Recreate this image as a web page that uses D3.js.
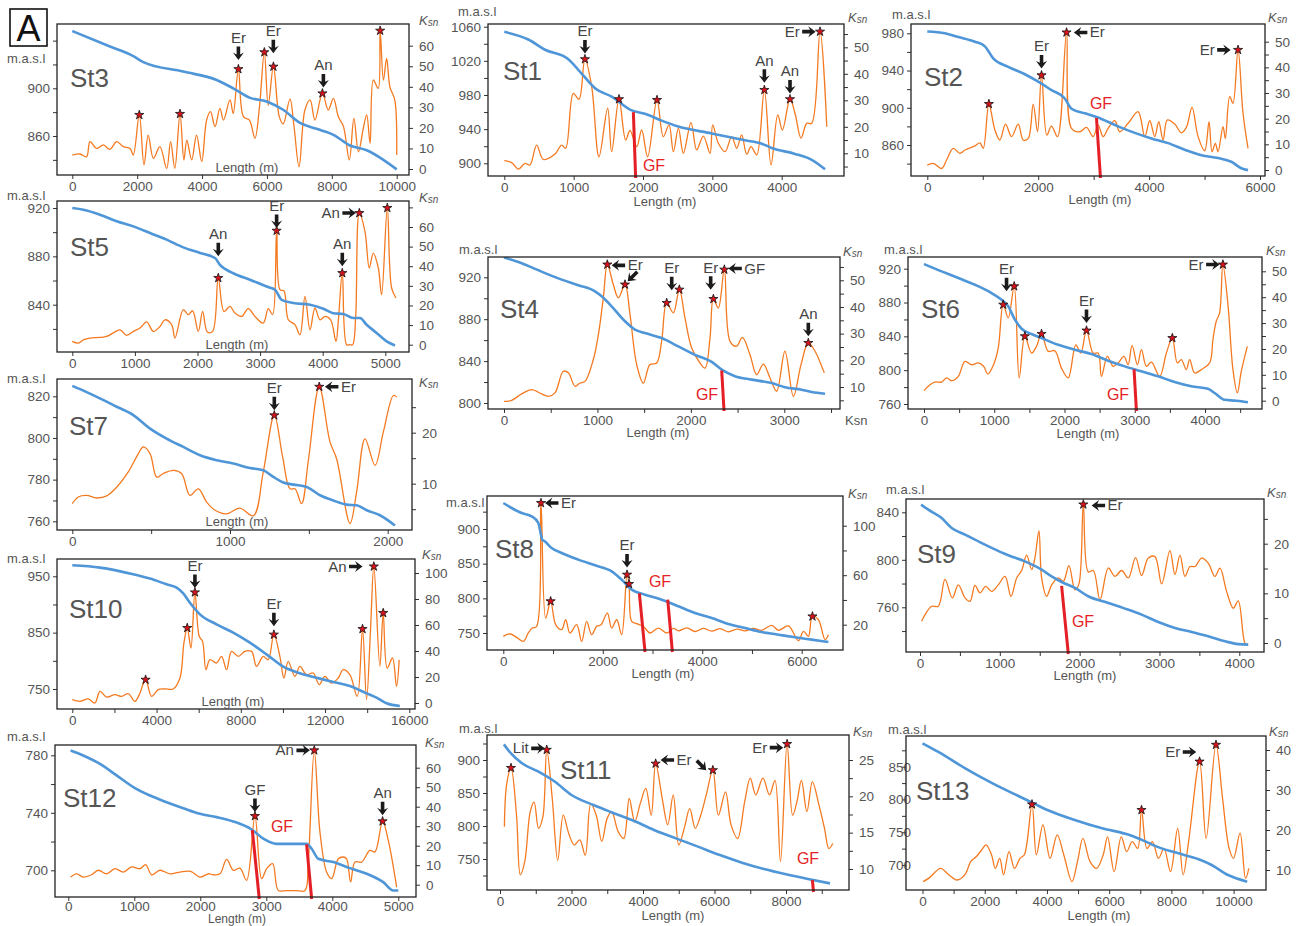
<!DOCTYPE html>
<html lang="en">
<head>
<meta charset="utf-8">
<title>Ksn profiles A</title>
<script src="https://cdn.jsdelivr.net/npm/d3@7"></script>
<style>
  body { margin: 0; background: #fff; }
  svg text { font-family: "Liberation Sans", Arial, sans-serif; }
  .axis line { stroke: #333; }
  .axis text { fill: #555; font-size: 13.5px; font-family: "Liberation Sans", Arial, sans-serif; }
</style>
</head>
<body>
<script>
// ---------- data: [distance (m), elevation (m.a.s.l)] and [distance, Ksn] ----------
const st3Elev = [[0,948],[1160,935],[1880,927],[2190,922],[3420,914],[4450,907],[4960,900],[5480,892],[5990,889],[6500,882],[7020,871],[7530,866],[8050,861],[8560,852],[9075,848],[9590,840],[10000,832]];
const st3Ksn = [[0,6.8],[236,7.3],[440,6],[545,13.3],[750,10],[955,11.7],[1160,9.6],[1370,13.3],[1570,10.9],[1780,10],[1880,6.8],[2065,26.3],[2210,2],[2340,16.5],[2500,5.2],[2700,10.9],[2910,0.3],[3030,13.3],[3160,0.3],[3320,26.8],[3440,4.4],[3530,14],[3680,4.4],[3830,16.5],[3990,3.6],[4140,23.8],[4260,27.9],[4400,20.6],[4550,29.5],[4660,23.8],[4860,33.6],[4960,27],[5120,48.6],[5275,25.5],[5460,23.8],[5630,15],[5770,30.3],[5920,56.8],[6040,31],[6200,49.8],[6380,25.5],[6500,22],[6710,34],[6830,21.4],[6990,1.1],[7170,28.7],[7330,33.6],[7480,23.8],[7710,36.8],[7890,28.7],[8050,34.4],[8200,25.5],[8360,20.6],[8540,4.4],[8680,24.6],[8820,8.4],[8970,19.8],[9075,26.3],[9180,12.5],[9280,43.3],[9430,39.2],[9490,67.3],[9590,43.3],[9690,53.8],[9790,40],[9940,33.6],[10000,6.8]];
const st3Stars = [[2065,26.3],[3320,26.8],[5120,48.6],[5920,56.8],[6200,49.8],[7710,36.8],[9490,67.3]];
const st3Notes = [["Er","down",5120,53],["Er","down",6197,56.3],["An","down",7740,39.7]];

const st5Elev = [[0,920],[176,918.6],[442,914.5],[708,909],[975,904.8],[1241,899.3],[1507,893.8],[1773,887.4],[2040,882.8],[2279,878.6],[2359,873],[2572,866],[2838,860.7],[3104,855],[3238,852.4],[3344,844],[3530,841.4],[3797,840],[4010,836.7],[4169,833],[4329,832.3],[4489,829],[4595,829],[4702,823.4],[4862,816.6],[5021,809.7],[5155,806.3]];
const st5Ksn = [[0,1.7],[96,0.8],[176,2.5],[282,3.4],[442,3.7],[548,4.2],[655,6],[761,7.6],[868,4.8],[975,6.8],[1081,8.5],[1188,11.6],[1294,6.8],[1400,9.3],[1480,12.7],[1587,10.2],[1640,3.4],[1773,17.8],[1853,15.3],[1922,17.3],[2013,6.8],[2082,17],[2157,6.5],[2242,6.8],[2332,34],[2423,17],[2519,19.5],[2599,16.1],[2705,14.4],[2811,18.4],[2918,14.4],[3051,11],[3131,18.4],[3200,15.3],[3264,58.1],[3318,28],[3381,27.5],[3451,12.7],[3557,10.2],[3637,5.1],[3717,24.6],[3797,7.6],[3877,18.7],[3957,12.7],[4036,14.4],[4127,12.7],[4212,1.7],[4249,11.9],[4313,36.5],[4382,0],[4430,0],[4478,0],[4526,13.6],[4585,67.1],[4675,57.8],[4744,39.1],[4808,46.7],[4888,39.1],[4941,25.5],[5032,69.7],[5101,28.9],[5171,23.8]];
const st5Stars = [[2332,34],[3264,58.1],[4313,36.5],[4585,67.1],[5032,69.7]];
const st5Notes = [["An","down",2332,45.1],["Er","down",3264,59.5],["An","down",4313,40],["An","right",4530,67.1]];

const st7Elev = [[0,825],[91,822],[175,819],[281,815],[387,811],[493,804.5],[598,799.7],[704,795.7],[810,791.7],[915,789.3],[1021,787.7],[1127,785.6],[1211,784.5],[1275,781.3],[1338,778.6],[1402,777.6],[1486,776.5],[1571,772.5],[1655,770],[1740,768],[1803,767.7],[1867,765.3],[1951,762.9],[2046,758]];
const st7Ksn = [[0,6.1],[38,7.4],[91,7.7],[154,7.2],[218,7.6],[281,9.3],[355,12.3],[419,15.9],[450,17.2],[493,15.9],[535,11.3],[577,12],[641,12.6],[693,12],[746,7.7],[799,9],[852,6.4],[905,4.8],[979,4.1],[1063,5.2],[1148,3.7],[1211,12.3],[1281,23.4],[1334,15.2],[1380,9],[1412,9],[1454,6.1],[1497,14.6],[1566,29],[1634,18.2],[1676,14.9],[1761,2.2],[1803,8.4],[1856,18.8],[1920,13.6],[1972,20.1],[2036,27.3],[2057,27]];
const st7Stars = [[1281,23.4],[1566,29]];
const st7Notes = [["Er","down",1281,24.4],["Er","left",1602,29]];

const st10Elev = [[0,969.5],[1313,965.4],[2895,953.6],[3686,945.9],[4477,935.8],[4952,929.9],[5268,919.8],[5585,903],[6059,882.5],[6850,864.8],[7641,850],[8432,832.2],[9223,811.5],[10014,789.6],[10805,777.8],[11596,770],[12387,762.4],[13178,755.3],[13970,742.3],[14444,734.6],[14919,724.6],[15551,719.8]];
const st10Ksn = [[0,2.6],[364,1.3],[759,3.1],[1076,0],[1313,9],[1629,4.6],[2025,6.4],[2341,5.1],[2658,7.2],[2974,1.3],[3180,6.4],[3480,17.9],[3765,5.1],[4082,10.3],[4398,10.8],[4793,10.8],[5110,19.2],[5300,46.2],[5458,57.7],[5632,42.3],[5822,85.1],[6027,51.3],[6185,47.4],[6344,25.6],[6534,33.3],[6850,30.8],[7087,35.9],[7325,25.6],[7562,39.7],[7878,35.9],[8194,39.7],[8511,39.7],[8748,28.2],[9065,35.9],[9302,33.3],[9571,52.6],[9855,35.9],[10046,19.2],[10251,32],[10568,20.5],[10805,28.2],[11121,21.8],[11438,23.1],[11723,14.1],[11992,20.5],[12308,15.4],[12624,19.2],[12862,25.6],[13178,21.8],[13526,5.1],[13779,56.9],[13970,2.6],[14159,56.4],[14317,105],[14602,28.2],[14760,69.2],[14950,26.9],[15203,34.6],[15393,12.8],[15520,33.3]];
const st10Stars = [[3480,17.9],[5458,57.7],[5822,85.1],[9571,52.6],[13779,56.9],[14317,105],[14760,69.2]];
const st10Notes = [["Er","down",5822,88.5],["Er","down",9571,59],["An","right",13780,105]];

const st12Elev = [[35,783.4],[227,779.9],[480,774],[732,766],[985,757.9],[1237,752],[1490,747.4],[1742,743.2],[1995,739.3],[2247,737],[2500,734],[2778,728.4],[2955,722],[3156,718.4],[3358,718.4],[3611,718.4],[3687,715],[3788,708],[4015,705.7],[4267,701.5],[4520,697.6],[4772,691.8],[4924,686],[5000,686]];
const st12Ksn = [[35,3.9],[126,5.6],[227,3.9],[354,5.1],[455,7.4],[581,5.6],[707,8.2],[833,6.5],[960,9.1],[1086,8.2],[1172,10.3],[1262,5.1],[1389,7.4],[1540,5.6],[1692,6.5],[1853,6.8],[1995,3.9],[2121,5.6],[2197,5.1],[2298,5.6],[2399,13],[2500,7.4],[2601,8.5],[2702,2.2],[2828,35.2],[2929,3.1],[3005,8.2],[3096,10.8],[3182,-3],[3300,-3],[3450,-3],[3586,-3],[3636,11.6],[3727,68.9],[3813,27],[3914,6.5],[3990,3.1],[4091,13.3],[4166,14.2],[4217,13.3],[4277,1.4],[4343,11.6],[4444,11.6],[4570,17.6],[4646,16.8],[4762,32.5],[4848,22.7],[4975,-1.2]];
const st12Stars = [[2828,35.2],[3727,68.9],[4762,32.5]];
const st12Notes = [["GF","down",2828,37.3],["An","right",3661,68.9],["An","down",4762,35.6]];
const st12GF = [[2788,2894,728],[3611,3687,718]];

const st1Elev = [[0,1054],[346,1045],[587,1033],[923,1022],[1115,1005],[1308,988],[1548,978],[1837,962],[2029,958],[2269,950],[2510,943],[2990,935],[3471,927],[3712,923],[3856,918],[4192,911],[4433,904],[4625,893]];
const st1Ksn = [[0,7.2],[106,6.5],[202,4],[298,6.2],[370,5.6],[466,13.1],[563,7.7],[731,9.7],[827,13.1],[885,11.9],[995,32.6],[1077,30.4],[1163,45.5],[1260,35.2],[1365,8.7],[1490,27],[1548,10.6],[1654,30.4],[1750,15],[1813,18.6],[1909,12.5],[1981,18.8],[2067,8.7],[2202,30.1],[2293,16.3],[2375,20.7],[2438,10.6],[2510,19.4],[2582,10],[2692,21.6],[2774,11.3],[2870,16.5],[2967,10],[3005,20.7],[3087,13.8],[3183,10.6],[3279,16.3],[3351,11.9],[3423,16.9],[3495,9.7],[3558,12.5],[3640,9.4],[3750,33.9],[3846,5.6],[3943,24.5],[4010,18.8],[4120,30.4],[4192,25.1],[4279,15.7],[4361,21.3],[4433,21.3],[4553,55.9],[4650,20]];
const st1Stars = [[1163,45.5],[1654,30.4],[2202,30.1],[3750,33.9],[4120,30.4],[4553,55.9]];
const st1Notes = [["Er","down",1163,47.7],["An","down",3750,36.6],["An","down",4120,32.6],["Er","right",4490,55.9]];
const st1GF = [[1861,1894,960]];

const st2Elev = [[0,982],[318,980],[559,976],[859,971],[1039,966],[1189,953],[1459,944],[1760,936],[2000,928],[2240,919],[2480,910],[2600,899],[2841,894],[3141,888],[3441,880],[3742,873],[4042,867],[4342,862],[4643,855],[4943,849],[5243,846],[5483,842],[5663,835],[5784,833]];
const st2Ksn = [[0,1.9],[108,2.6],[258,0.6],[348,3.9],[468,8.4],[589,6.5],[679,7.8],[859,9.4],[949,10.6],[1009,8.4],[1111,25.7],[1219,15.6],[1309,11.7],[1411,17.9],[1519,13],[1640,17.9],[1730,11.7],[1820,12.3],[1910,25.7],[1988,14.9],[2060,36.9],[2156,13.6],[2240,17.1],[2348,13],[2511,53.6],[2600,16.2],[2751,14.9],[2871,16.6],[2991,13],[3081,17.5],[3171,13],[3261,16.2],[3381,19.2],[3471,14.9],[3622,18.2],[3802,22.7],[3922,13],[4012,19.2],[4102,13],[4174,18.8],[4252,11.7],[4330,19.5],[4462,17.9],[4582,14.5],[4672,16.6],[4775,24.4],[4883,13],[5003,7.5],[5081,18.8],[5135,7.1],[5195,10.4],[5243,7.1],[5333,16.9],[5375,12.3],[5453,28.6],[5513,26],[5604,46.8],[5694,22.1],[5784,8.4]];
const st2Stars = [[1111,25.7],[2060,36.9],[2511,53.6],[5604,46.8]];
const st2Notes = [["Er","down",2060,39.6],["Er","left",2643,53.6],["Er","right",5471,46.8]];
const st2GF = [[3051,3123,889]];

const st4Elev = [[0,939],[153,934.6],[296,929.5],[439,924],[617,917.8],[796,912.4],[974,906.6],[1045,901.9],[1152,892.3],[1295,878],[1402,870],[1509,866.8],[1687,862],[1866,854],[2044,846],[2223,839.2],[2330,831.8],[2472,825.5],[2651,822.3],[2865,819],[3007,815],[3186,812.7],[3293,810.5],[3436,808.9]];
const st4Ksn = [[0,4.6],[82,5],[189,7.4],[296,9],[403,7.4],[475,6.5],[546,7.8],[635,15.9],[689,15.3],[760,10.3],[814,11.5],[867,12.1],[956,20.3],[1010,29.6],[1063,43.4],[1106,55.9],[1170,48.4],[1224,43.4],[1295,48.4],[1349,37.1],[1420,18.4],[1491,11.5],[1562,18.4],[1634,19],[1687,27.1],[1741,41.5],[1812,37.8],[1877,46.5],[1937,35.9],[2009,24.6],[2098,19],[2152,17.1],[2205,28.4],[2241,43],[2294,39.6],[2358,54],[2419,27.1],[2490,25.3],[2551,28.6],[2633,22.1],[2704,14.6],[2776,18.6],[2847,13.4],[2918,8.4],[3007,23.4],[3097,6.5],[3179,18.4],[3257,26.5],[3329,23.4],[3400,17.8],[3428,15.3]];
const st4Stars = [[1106,55.9],[1295,48.4],[1741,41.5],[1877,46.5],[2241,43],[2358,54],[3257,26.5]];
const st4Notes = [["Er","left",1152,55.6],["","dl",1324,49.6],["Er","down",1795,46.25],["Er","down",2212,46.5],["GF","left",2401,54.4],["An","down",3257,29]];
const st4GF = [[2330,2355,831]];

const st6Elev = [[0,925.5],[251,916.8],[488,909],[725,901],[962,891.2],[1104,883.3],[1199,875.5],[1294,859.7],[1389,849],[1531,842.8],[1673,838],[1910,830],[2147,824.2],[2384,819],[2621,811.2],[2858,804.5],[3095,798.6],[3332,792.7],[3568,786],[3805,780.9],[4042,778.1],[4137,773],[4279,765],[4421,764],[4516,763.2],[4611,762]];
const st6Ksn = [[0,3.9],[85,6.2],[156,7.2],[251,7.2],[322,8.8],[393,7.7],[488,9.4],[583,15.2],[678,13.9],[773,14.6],[848,13.3],[910,10.3],[990,13.9],[1057,20.4],[1128,37.1],[1199,32],[1284,44.2],[1355,8.8],[1436,24.9],[1531,18.4],[1602,21],[1673,25.8],[1768,19.1],[1862,19.3],[1957,12.6],[2052,8.8],[2161,21.6],[2232,18.4],[2313,27.1],[2408,18.4],[2479,18.4],[2526,9.4],[2611,17.1],[2692,13.3],[2763,14.6],[2848,17.1],[2905,13.9],[2962,21.4],[3038,13.9],[3095,19.7],[3166,13.3],[3237,14.9],[3355,9.4],[3450,18.4],[3535,24.2],[3606,14.6],[3663,15.9],[3734,12],[3782,15.9],[3853,10.7],[3947,12],[4066,14.6],[4113,23.6],[4160,30.7],[4208,33.9],[4255,52.6],[4327,37.1],[4398,12],[4460,3],[4516,11.3],[4602,21]];
const st6Stars = [[1128,37.1],[1284,44.2],[1436,24.9],[1673,25.8],[2313,27.1],[3535,24.2],[4255,52.6]];
const st6Notes = [["Er","down",1175,42.3],["Er","down",2313,30],["Er","right",4208,52.6]];
const st6GF = [[2990,3024,801]];

const st8Elev = [[0,937.5],[168,930.3],[369,923],[570,918.3],[704,908.7],[785,884.6],[838,882],[972,872.6],[1173,865.4],[1509,855.8],[1844,847.6],[2179,839],[2380,827],[2581,812.5],[2850,805.3],[3185,798],[3520,788.5],[3855,778.8],[4191,771.6],[4526,763],[4861,757.2],[5196,751.4],[5532,747.6],[5867,743.8],[6202,740.4],[6537,737]];
const st8Ksn = [[0,10.6],[134,12.5],[268,9.8],[402,6.5],[503,13.3],[583,17.3],[671,18.7],[758,118.3],[852,25.4],[952,38.9],[1053,20],[1173,16],[1254,24],[1341,13.3],[1475,20],[1576,6.5],[1676,22.7],[1777,11.9],[1878,18.7],[1965,20],[2092,29.4],[2179,17.3],[2280,24],[2380,11.9],[2488,60.4],[2528,52.9],[2581,22.7],[2682,20.8],[2816,18.7],[2950,13.3],[3118,17.3],[3285,13.3],[3420,17],[3520,15],[3690,17.5],[3855,14.5],[4020,17],[4191,14.8],[4360,16.8],[4526,14.2],[4700,16.5],[4861,15],[5030,17],[5196,15.5],[5397,19.5],[5532,15.5],[5733,19],[5934,7.1],[6035,14.6],[6135,10.6],[6216,26.7],[6336,24],[6470,7.9],[6537,11.9]];
const st8Stars = [[758,118.3],[952,38.9],[2488,60.4],[2528,52.9],[6216,26.7]];
const st8Notes = [["Er","left",838,118.3],["Er","down",2488,66.3]];
const st8GF = [[2736,2850,807],[3306,3400,798]];

const st9Elev = [[13,846.5],[104,842.2],[271,835.2],[397,826.8],[564,821.2],[689,817],[898,810],[1106,803.8],[1315,798.7],[1524,791.7],[1649,786],[1774,781.3],[1941,776.3],[2108,769.3],[2359,763.6],[2568,758.9],[2776,753.8],[2985,747.6],[3194,742.6],[3403,739.2],[3611,735.6],[3820,731.4],[3987,729],[4112,728.6]];
const st9Ksn = [[21,4.4],[63,5.7],[146,7.4],[230,7.4],[313,12.8],[405,9.1],[480,11.7],[564,9.1],[626,8.4],[689,11.6],[752,10.1],[823,11.4],[898,10.4],[981,11.7],[1065,13.4],[1140,9.4],[1211,13.1],[1273,14.6],[1336,17.7],[1399,14.8],[1440,17.2],[1490,22.6],[1524,13.1],[1586,9.4],[1649,11.7],[1733,13.1],[1795,12.4],[1866,15.6],[1941,10.7],[1991,11.9],[2046,27.9],[2108,14.3],[2171,14.6],[2255,8.7],[2359,15.1],[2442,13.4],[2526,14.6],[2609,13.1],[2701,17.2],[2776,13.6],[2860,17.1],[2943,17.4],[3027,11.9],[3131,18.6],[3194,13.8],[3257,17.7],[3319,13.4],[3382,15.4],[3445,15.4],[3528,17.1],[3611,16.1],[3695,13.4],[3758,15.1],[3841,10.4],[3925,7],[3987,8.5],[4071,0],[4104,-0.3]];
const st9Stars = [[2046,27.9]];
const st9Notes = [["Er","left",2150,27.7]];
const st9GF = [[1774,1858,778]];

const st11Elev = [[108,923.7],[308,910],[615,895],[1077,882.3],[1538,867],[2000,847],[2615,831.8],[3077,821.7],[3692,809],[4308,794],[4923,781.3],[5538,768.7],[6154,756],[6769,744.4],[7385,734.8],[8000,726.8],[8615,719.7],[9231,713.1]];
const st11Ksn = [[123,15.8],[185,21.6],[308,23.9],[462,17.4],[569,9.2],[692,11],[846,17.9],[954,19.2],[1077,15.6],[1200,17.2],[1308,26.4],[1462,19.7],[1615,11.2],[1769,17.4],[1923,14.9],[2077,13.3],[2231,14],[2385,11.9],[2538,19],[2692,17.4],[2846,13.8],[3000,17],[3123,17.9],[3308,15.1],[3462,14.2],[3615,19.7],[3769,16.5],[3923,19],[4077,21.1],[4231,17.4],[4354,24.5],[4538,19.7],[4692,16.1],[4846,20.2],[5000,13.3],[5154,15.6],[5308,18.3],[5462,15.6],[5615,17.4],[5769,20.2],[5954,23.6],[6108,17.4],[6308,20.6],[6462,16.1],[6646,14.2],[6846,19.3],[7000,22.5],[7154,20.2],[7354,22.5],[7538,20.2],[7692,22.2],[7846,11],[8031,27.2],[8185,17.4],[8308,19.3],[8431,22.2],[8585,17.9],[8738,22],[8923,18.8],[9077,15.6],[9200,12.8],[9308,13.5]];
const st11Stars = [[308,23.9],[1308,26.4],[4354,24.5],[5954,23.6],[8031,27.2]];
const st11Notes = [["Lit","right",1250,26.6],["Er","left",4492,25],["","dr",5769,23.6],["Er","right",7923,26.7]];
const st11GF = [[8738,8770,718]];

const st13Elev = [[0,885.6],[493,872.9],[1373,847.5],[2253,824.6],[3133,804.2],[3573,794],[4013,783.9],[4893,768.7],[5773,756],[6653,745.8],[7181,735.6],[7533,728],[8413,715.3],[8941,707.6],[9293,700],[9821,684.8],[10437,674.6]];
const st13Ksn = [[18,7.1],[229,8.1],[581,10.4],[845,8.8],[1109,7.5],[1373,8.9],[1549,12.1],[1725,13.3],[1901,15],[2042,16.3],[2218,13.8],[2341,10.4],[2482,12.9],[2605,8.8],[2781,14.6],[2957,10.4],[3133,12.9],[3274,13.8],[3520,26.4],[3661,13.8],[3872,21.3],[4101,12.9],[4330,18.8],[4541,13.8],[4805,7.1],[4981,12.1],[5157,17.9],[5386,12.1],[5597,10.4],[5808,13.8],[5949,18.3],[6160,9.6],[6389,18.3],[6565,14.6],[6741,17.1],[6917,15.4],[7040,25],[7216,15.4],[7392,17.1],[7586,12.9],[7762,15.4],[7973,9.6],[8202,20.4],[8378,8.8],[8554,17.1],[8906,37.1],[9117,17.9],[9434,41.3],[9645,27.9],[9856,15.4],[9997,12.9],[10208,19.2],[10384,7.9],[10490,10.4]];
const st13Stars = [[3520,26.4],[7040,25],[8906,37.1],[9434,41.3]];
const st13Notes = [["Er","right",8800,39.5]];

// ---------- layout ----------
const rng = (a, b, s) => d3.range(a, b + s / 2, s);

const panels = [
  {name:"St3", elev:st3Elev, ksn:st3Ksn, stars:st3Stars, notes:st3Notes, gf:[],
   frame:[57,24,409,175], xd:[0,10000], xr:[72.3,396.7], ed:[860,900], er:[136,88.3], kd:[0,60], kr:[169,45.7],
   xt:rng(0,10000,2000), xl:rng(0,10000,2000), et:rng(840,940,20), el:[860,900], kt:rng(0,60,10), kl:rng(0,60,10),
   title:[70,87], masl:[7,63], ksnPos:[419,25], len:[247,172]},
  {name:"St5", elev:st5Elev, ksn:st5Ksn, stars:st5Stars, notes:st5Notes, gf:[],
   frame:[57,201,409,352], xd:[0,5000], xr:[72.3,385.3], ed:[840,920], er:[304.7,208], kd:[0,60], kr:[344.7,227],
   xt:rng(0,5000,1000), xl:rng(0,5000,1000), et:rng(820,920,20), el:[840,880,920], kt:rng(0,70,10), kl:rng(0,60,10),
   title:[70,256], masl:[7,200], ksnPos:[419,202], len:[237,349]},
  {name:"St7", elev:st7Elev, ksn:st7Ksn, stars:st7Stars, notes:st7Notes, gf:[],
   frame:[57,379,412,530], xd:[0,2000], xr:[72.3,387.7], ed:[760,820], er:[521.3,396.3], kd:[10,20], kr:[483.7,432.7],
   xt:rng(0,2000,500), xl:[0,1000,2000], et:rng(760,820,10), el:[760,780,800,820], kt:rng(5,25,5), kl:[10,20],
   title:[69,435], masl:[7,383], ksnPos:[419,387], len:[237,526]},
  {name:"St10", elev:st10Elev, ksn:st10Ksn, stars:st10Stars, notes:st10Notes, gf:[],
   frame:[57,559,415,709], xd:[0,16000], xr:[72.3,409.3], ed:[750,950], er:[689,576.3], kd:[0,100], kr:[703,573],
   xt:rng(0,16000,2000), xl:rng(0,16000,4000), et:rng(750,950,50), el:[750,850,950], kt:rng(0,100,20), kl:rng(0,100,20),
   title:[69,618], masl:[7,563], ksnPos:[422,559], len:[233,706]},
  {name:"St12", elev:st12Elev, ksn:st12Ksn, stars:st12Stars, notes:st12Notes, gf:st12GF,
   frame:[55,745,416,897], xd:[0,5000], xr:[68.3,398.3], ed:[700,780], er:[870.3,755.3], kd:[0,60], kr:[884.7,767.7],
   xt:rng(0,5000,1000), xl:rng(0,5000,1000), et:rng(700,780,20), el:[700,740,780], kt:rng(0,60,10), kl:rng(0,60,10),
   title:[63,807], masl:[7,741], ksnPos:[425,747], len:[237,923], lenSize:12, xPad:0, gfText:[282,832]},
  {name:"St1", elev:st1Elev, ksn:st1Ksn, stars:st1Stars, notes:st1Notes, gf:st1GF,
   frame:[488,24,844,176], xd:[0,4000], xr:[504.3,781.7], ed:[900,1060], er:[163.3,26.7], kd:[10,50], kr:[153.3,47.3],
   xt:rng(0,4000,1000), xl:rng(0,4000,1000), et:rng(900,1060,20), el:rng(900,1060,40), kt:rng(5,55,5), kl:rng(10,50,10),
   title:[503,80], masl:[458,16], ksnPos:[848,22], len:[665,206], gfText:[654,171]},
  {name:"St2", elev:st2Elev, ksn:st2Ksn, stars:st2Stars, notes:st2Notes, gf:st2GF,
   frame:[911,24,1265,176], xd:[0,6000], xr:[927.3,1260], ed:[860,980], er:[145,33.3], kd:[0,50], kr:[170,41.7],
   xt:rng(0,6000,1000), xl:rng(0,6000,2000), et:rng(840,980,20), el:rng(860,980,40), kt:rng(0,50,5), kl:rng(0,50,10),
   title:[924,86], masl:[892,19], ksnPos:[1268,22], len:[1100,204], gfText:[1101,109]},
  {name:"St4", elev:st4Elev, ksn:st4Ksn, stars:st4Stars, notes:st4Notes, gf:st4GF,
   frame:[488,257,840,409], xd:[0,3000], xr:[504,784.3], ed:[800,920], er:[403,277.3], kd:[10,50], kr:[387,280.3],
   xt:rng(0,3500,500), xl:rng(0,3000,1000), et:rng(800,920,20), el:rng(800,920,40), kt:rng(5,55,5), kl:rng(10,50,10),
   title:[500,318], masl:[459,254], ksnPos:[843,256], len:[658,437], gfText:[707,400], extraKsn:[845,425]},
  {name:"St6", elev:st6Elev, ksn:st6Ksn, stars:st6Stars, notes:st6Notes, gf:st6GF,
   frame:[908,257,1262,409], xd:[0,4000], xr:[924,1205], ed:[760,920], er:[404,268.7], kd:[0,50], kr:[400.7,271.3],
   xt:rng(0,4500,500), xl:rng(0,4000,1000), et:rng(760,920,20), el:rng(760,920,40), kt:rng(0,50,5), kl:rng(0,50,10),
   title:[921,318], masl:[884,254], ksnPos:[1266,255], len:[1088,438], gfText:[1118,400]},
  {name:"St8", elev:st8Elev, ksn:st8Ksn, stars:st8Stars, notes:st8Notes, gf:st8GF,
   frame:[487,496,843,650], xd:[0,6000], xr:[503.3,801.7], ed:[750,900], er:[633,529], kd:[20,100], kr:[624.7,525.7],
   xt:rng(0,6000,1000), xl:rng(0,6000,2000), et:rng(750,925,25), el:rng(750,900,50), kt:rng(20,100,20), kl:[20,60,100],
   title:[495,558], masl:[446,507], ksnPos:[848,498], len:[663,678], gfText:[660,587]},
  {name:"St9", elev:st9Elev, ksn:st9Ksn, stars:st9Stars, notes:st9Notes, gf:st9GF,
   frame:[906,499,1264,652], xd:[0,4000], xr:[920,1239.3], ed:[760,840], er:[607.3,512.3], kd:[0,20], kr:[643,543.7],
   xt:rng(0,4000,500), xl:rng(0,4000,1000), et:rng(740,840,20), el:[760,800,840], kt:rng(0,25,5), kl:[0,10,20],
   title:[917,563], masl:[886,494], ksnPos:[1267,497], len:[1085,680], gfText:[1083,627]},
  {name:"St11", elev:st11Elev, ksn:st11Ksn, stars:st11Stars, notes:st11Notes, gf:st11GF,
   frame:[487,735,849,890], xd:[0,8000], xr:[500,786], ed:[750,900], er:[859,760], kd:[10,25], kr:[869,760],
   xt:rng(0,9000,1000), xl:rng(0,8000,2000), et:rng(725,925,25), el:rng(750,900,50), kt:rng(10,25,2.5), kl:[10,15,20,25],
   title:[560,779], masl:[459,733], ksnPos:[853,736], len:[673,920], gfText:[808,864]},
  {name:"St13", elev:st13Elev, ksn:st13Ksn, stars:st13Stars, notes:st13Notes, gf:[],
   frame:[906,736,1266,890], xd:[0,10000], xr:[922.5,1233.6], ed:[700,850], er:[865,766.7], kd:[10,40], kr:[870,750],
   xt:rng(0,10000,1000), xl:rng(0,10000,2000), et:rng(700,875,25), el:rng(700,850,50), kt:rng(10,40,5), kl:rng(10,40,10),
   title:[916,800], masl:[888,734], ksnPos:[1269,736], len:[1099,920], ePad:-9}
];

const COL = { orange:"#f47a22", blue:"#4f96d8", red:"#e41f26", text:"#555", note:"#444", arrow:"#1b1b1b" };
const arrowPath = "M0,0 L-5.5,-7.5 L-1.8,-5.6 L-1.8,-13.5 L1.8,-13.5 L1.8,-5.6 L5.5,-7.5 Z";
const arrowRot = { down:0, left:90, right:-90, dl:45, dr:-45 };

const svg = d3.select("body").append("svg")
  .attr("width", 1301).attr("height", 926);

// panel letter
svg.append("rect").attr("x", 10).attr("y", 9).attr("width", 37).attr("height", 37)
  .attr("fill", "none").attr("stroke", "#111").attr("stroke-width", 1.6);
svg.append("text").attr("x", 28.5).attr("y", 41).attr("text-anchor", "middle")
  .attr("font-size", 36).attr("fill", "#111").text("A");

panels.forEach(drawPanel);

function drawPanel(p, i) {
  const [fx0, fy0, fx1, fy1] = p.frame;
  const x = d3.scaleLinear().domain(p.xd).range(p.xr);
  const yE = d3.scaleLinear().domain(p.ed).range(p.er);
  const yK = d3.scaleLinear().domain(p.kd).range(p.kr);
  const g = svg.append("g");
  const clipId = "clip" + i;

  g.append("clipPath").attr("id", clipId).append("rect")
    .attr("x", fx0).attr("y", fy0).attr("width", fx1 - fx0).attr("height", fy1 - fy0);

  const fmt = labels => d => labels.includes(d) ? String(d) : "";

  // axes
  const ax = [
    g.append("g").attr("transform", `translate(0,${fy1})`)
      .call(d3.axisBottom(x).tickValues(p.xt).tickFormat(fmt(p.xl)).tickSize(4).tickPadding(p.xPad ?? 2)),
    g.append("g").attr("transform", `translate(${fx0},0)`)
      .call(d3.axisLeft(yE).tickValues(p.et).tickFormat(fmt(p.el)).tickSize(4).tickPadding(p.ePad ?? 3)),
    g.append("g").attr("transform", `translate(${fx1},0)`)
      .call(d3.axisRight(yK).tickValues(p.kt).tickFormat(fmt(p.kl)).tickSize(4).tickPadding(6))
  ];
  ax.forEach(a => {
    a.attr("class", "axis").attr("font-size", null).attr("font-family", null);
    a.select(".domain").remove();
  });

  // Ksn profile
  g.append("path").datum(p.ksn)
    .attr("clip-path", `url(#${clipId})`)
    .attr("fill", "none").attr("stroke", COL.orange).attr("stroke-width", 1.3)
    .attr("d", d3.line().x(d => x(d[0])).y(d => yK(d[1])).curve(d3.curveCatmullRom.alpha(0.5)));

  // elevation profile
  g.append("path").datum(p.elev)
    .attr("clip-path", `url(#${clipId})`)
    .attr("fill", "none").attr("stroke", COL.blue).attr("stroke-width", 2.6)
    .attr("stroke-linejoin", "round")
    .attr("d", d3.line().x(d => x(d[0])).y(d => yE(d[1])).curve(d3.curveMonotoneX));

  // GF red lines
  g.selectAll(".gf").data(p.gf).join("line")
    .attr("x1", d => x(d[0])).attr("y1", d => yE(d[2]))
    .attr("x2", d => x(d[1])).attr("y2", fy1 + 2)
    .attr("stroke", COL.red).attr("stroke-width", 3);
  if (p.gfText) {
    g.append("text").attr("x", p.gfText[0]).attr("y", p.gfText[1])
      .attr("text-anchor", "middle").attr("font-size", 16).attr("fill", COL.red).text("GF");
  }

  // frame
  g.append("rect").attr("x", fx0).attr("y", fy0).attr("width", fx1 - fx0).attr("height", fy1 - fy0)
    .attr("fill", "none").attr("stroke", "#222").attr("stroke-width", 1.3);

  // knickpoint stars
  g.selectAll(".star").data(p.stars).join("path")
    .attr("transform", d => `translate(${x(d[0])},${yK(d[1])})`)
    .attr("d", d3.symbol(d3.symbolStar, 26))
    .attr("fill", "#d9121b").attr("stroke", "#111").attr("stroke-width", 0.8);

  // annotation arrows and labels
  p.notes.forEach(([label, dir, dist, k]) => {
    const tx = x(dist), ty = yK(k);
    g.append("path").attr("d", arrowPath).attr("fill", COL.arrow)
      .attr("transform", `translate(${tx},${ty}) rotate(${arrowRot[dir]})`);
    if (!label) return;
    const t = g.append("text").attr("font-size", 15).attr("fill", COL.note).text(label);
    if (dir === "down") t.attr("x", tx).attr("y", ty - 17).attr("text-anchor", "middle");
    if (dir === "left") t.attr("x", tx + 16).attr("y", ty + 5).attr("text-anchor", "start");
    if (dir === "right") t.attr("x", tx - 16).attr("y", ty + 5).attr("text-anchor", "end");
  });

  // titles and axis names
  g.append("text").attr("x", p.title[0]).attr("y", p.title[1])
    .attr("font-size", 26).attr("fill", COL.text).text(p.name);
  g.append("text").attr("x", p.masl[0]).attr("y", p.masl[1])
    .attr("font-size", 13).attr("fill", COL.text).text("m.a.s.l");
  g.append("text").attr("x", p.len[0]).attr("y", p.len[1]).attr("text-anchor", "middle")
    .attr("font-size", p.lenSize ?? 13).attr("fill", COL.text).text("Length (m)");
  const kt = g.append("text").attr("x", p.ksnPos[0]).attr("y", p.ksnPos[1])
    .attr("font-style", "italic").attr("fill", COL.text);
  kt.append("tspan").attr("font-size", 13).text("K");
  kt.append("tspan").attr("font-size", 10).attr("dy", 1).text("sn");
  if (p.extraKsn) {
    g.append("text").attr("x", p.extraKsn[0]).attr("y", p.extraKsn[1])
      .attr("font-size", 13).attr("fill", COL.text).text("Ksn");
  }
}
</script>
</body>
</html>
